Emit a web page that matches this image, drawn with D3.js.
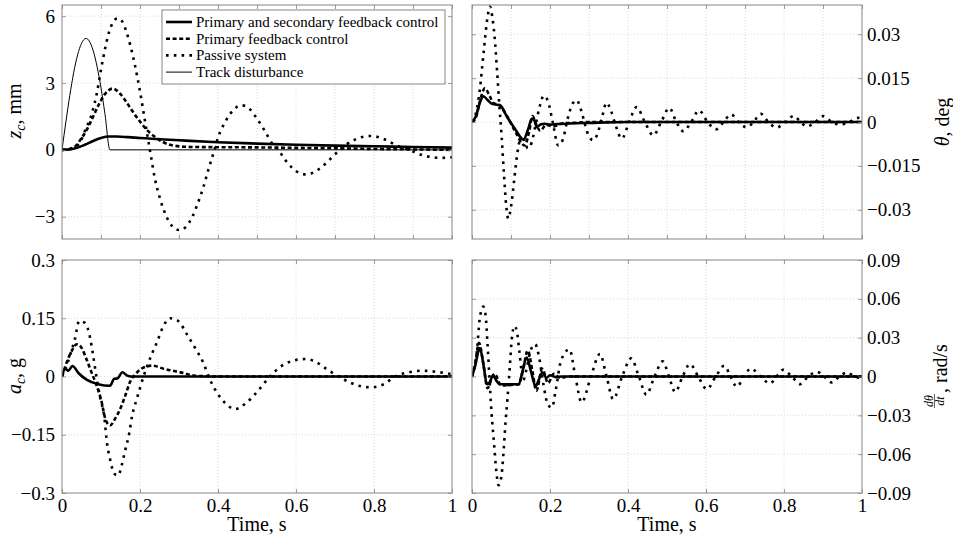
<!DOCTYPE html>
<html>
<head>
<meta charset="utf-8">
<script src="https://cdn.jsdelivr.net/npm/d3@7"></script>
<style>
  body { margin: 0; background: #fff; }
  svg text { font-family: "Liberation Serif", "DejaVu Serif", serif; fill: #000; }
</style>
</head>
<body>
<svg id="chart" width="953" height="538"></svg>
<script>
// axis ticks
const timeTicks = [0, 0.2, 0.4, 0.6, 0.8, 1];
const timeTickLabels = ["0", "0.2", "0.4", "0.6", "0.8", "1"];
const timeTicksFine = [0, 0.1, 0.2, 0.3, 0.4, 0.5, 0.6, 0.7, 0.8, 0.9, 1];
const zTicks = [6, 3, 0, -3];
const zTickLabels = ["6", "3", "0", "\u22123"];
const thTicks = [0.03, 0.015, 0, -0.015, -0.03];
const thTickLabels = ["0.03", "0.015", "0", "\u22120.015", "\u22120.03"];
const acTicks = [0.3, 0.15, 0, -0.15, -0.3];
const acTickLabels = ["0.3", "0.15", "0", "\u22120.15", "\u22120.3"];
const dtTicks = [0.09, 0.06, 0.03, 0, -0.03, -0.06, -0.09];
const dtTickLabels = ["0.09", "0.06", "0.03", "0", "\u22120.03", "\u22120.06", "\u22120.09"];

const legendNames = ["Primary and secondary feedback control", "Primary feedback control", "Passive system", "Track disturbance"];

// z_c, mm
const trackTime = [0, 0.01, 0.02, 0.03, 0.04, 0.05, 0.0615, 0.07, 0.08, 0.09, 0.10, 0.11, 0.123, 1.0];
const trackVal = [0, 1.26, 2.44, 3.47, 4.26, 4.78, 5.0, 4.88, 4.45, 3.73, 2.78, 1.63, 0, 0];
const zBothTime = [0, 0.02, 0.04, 0.06, 0.08, 0.1, 0.12, 0.14, 0.17, 0.2, 0.3, 0.4, 0.5, 0.6, 0.7, 0.8, 0.9, 1.0];
const zBothVal = [0, 0.02, 0.1, 0.24, 0.4, 0.53, 0.6, 0.6, 0.57, 0.53, 0.43, 0.34, 0.28, 0.23, 0.19, 0.16, 0.13, 0.1];
const zPrimTime = [0, 0.02, 0.035, 0.05, 0.065, 0.08, 0.095, 0.11, 0.13, 0.15, 0.165, 0.18, 0.2, 0.22, 0.24, 0.26, 0.29, 0.33, 0.4, 0.5, 0.6, 0.7, 0.8, 0.9, 1.0];
const zPrimVal = [0, 0.04, 0.18, 0.52, 0.95, 1.5, 2.05, 2.5, 2.75, 2.5, 2.15, 1.75, 1.27, 0.85, 0.56, 0.34, 0.18, 0.13, 0.12, 0.11, 0.09, 0.07, 0.04, 0.02, 0.0];
const zPassTime = [0, 0.02, 0.035, 0.045, 0.058, 0.077, 0.09, 0.1, 0.11, 0.12, 0.13, 0.142, 0.155, 0.165, 0.175, 0.187, 0.2, 0.213, 0.226, 0.238, 0.251, 0.268, 0.284, 0.302, 0.318, 0.333, 0.347, 0.362, 0.376, 0.39, 0.40, 0.42, 0.44, 0.46, 0.48, 0.50, 0.52, 0.54, 0.555, 0.57, 0.59, 0.61, 0.625, 0.64, 0.66, 0.68, 0.70, 0.713, 0.73, 0.75, 0.77, 0.79, 0.81, 0.83, 0.85, 0.87, 0.89, 0.91, 0.93, 0.95, 0.97, 1.0];
const zPassVal = [0, 0.05, 0.15, 0.3, 0.82, 1.65, 2.6, 3.6, 4.5, 5.25, 5.7, 5.9, 5.75, 5.3, 4.7, 3.8, 2.62, 1.27, -0.07, -1.27, -2.17, -3.0, -3.45, -3.6, -3.45, -3.05, -2.45, -1.7, -0.85, -0.05, 0.55, 1.3, 1.8, 2.0, 1.85, 1.4, 0.85, 0.25, 0, -0.4, -0.8, -1.05, -1.1, -1.05, -0.85, -0.55, -0.2, 0, 0.25, 0.45, 0.58, 0.62, 0.58, 0.45, 0.27, 0.1, 0, -0.15, -0.27, -0.33, -0.36, -0.33];

// theta, deg
const thBothTime = [0, 0.01, 0.02, 0.029, 0.04, 0.05, 0.06, 0.072, 0.09, 0.11, 0.132, 0.145, 0.153, 0.16, 0.166, 0.177, 0.187, 0.2, 0.22, 0.25, 0.3, 0.4, 1.0];
const thBothVal = [0, 0.002, 0.0065, 0.0088, 0.0075, 0.0063, 0.006, 0.0057, 0.0017, -0.0023, -0.006, -0.002, 0.0011, 0.0005, -0.0017, -0.0008, -0.0006, -0.0009, -0.0007, -0.0005, -0.0003, 0, 0];
const thPrimTime = [0, 0.01, 0.02, 0.033, 0.045, 0.055, 0.07, 0.09, 0.11, 0.135, 0.147, 0.155, 0.165, 0.175, 0.19, 0.21, 0.23, 0.26, 0.3, 1.0];
const thPrimVal = [0, 0.0015, 0.007, 0.0115, 0.009, 0.0065, 0.0058, 0.002, -0.003, -0.008, -0.003, 0.002, -0.001, -0.003, -0.001, -0.0015, -0.0005, -0.0003, 0, 0];
const thPassTime = [0, 0.01, 0.02, 0.03, 0.04, 0.046, 0.052, 0.058, 0.064, 0.07, 0.076, 0.082, 0.088, 0.093, 0.1, 0.108, 0.116, 0.124, 0.133, 0.143, 0.153, 0.163, 0.173, 0.184, 0.195, 0.207, 0.221, 0.233, 0.245, 0.257, 0.268, 0.28, 0.29, 0.3, 0.311, 0.322, 0.334, 0.345, 0.356, 0.368, 0.384, 0.403, 0.422, 0.443, 0.465, 0.485, 0.506, 0.524, 0.542, 0.562, 0.582, 0.604, 0.626, 0.645, 0.664, 0.684, 0.704, 0.722, 0.74, 0.76, 0.781, 0.803, 0.826, 0.842, 0.859, 0.88, 0.901, 0.922, 0.944, 0.967, 0.99, 1.0];
const thPassVal = [0, 0.003, 0.011, 0.024, 0.036, 0.0395, 0.036, 0.029, 0.018, 0.006, -0.005, -0.018, -0.029, -0.033, -0.029, -0.02, -0.011, -0.006, -0.006, -0.009, -0.007, -0.001, 0.005, 0.009, 0.007, 0, -0.008, -0.006, 0.001, 0.006, 0.0075, 0.004, -0.001, -0.005, -0.0062, -0.004, 0.002, 0.0066, 0.004, -0.001, -0.0057, 0, 0.0051, 0, -0.0046, 0, 0.0048, 0, -0.0032, 0, 0.004, 0, -0.0025, 0, 0.0026, 0, -0.0018, 0, 0.0028, 0, -0.0019, 0, 0.0021, 0, -0.0015, 0, 0.002, 0, -0.0009, 0, 0.0014, 0.001];

// a_c, g
const acBothTime = [0, 0.008, 0.016, 0.027, 0.042, 0.063, 0.093, 0.123, 0.134, 0.142, 0.155, 0.166, 0.178, 0.2, 1.0];
const acBothVal = [0, 0.02, 0.015, 0.027, 0.009, -0.008, -0.02, -0.024, -0.006, -0.005, 0.011, 0.003, 0, 0, 0];
const acPrimTime = [0, 0.012, 0.025, 0.038, 0.05, 0.063, 0.076, 0.089, 0.102, 0.11, 0.123, 0.136, 0.149, 0.162, 0.174, 0.191, 0.209, 0.23, 0.264, 0.307, 0.341, 0.4, 1.0];
const acPrimVal = [0, 0.036, 0.066, 0.083, 0.074, 0.044, 0.01, -0.024, -0.067, -0.105, -0.126, -0.109, -0.084, -0.05, -0.015, 0.009, 0.023, 0.028, 0.019, 0.01, 0.002, 0, 0];
const acPassTime = [0, 0.01, 0.02, 0.033, 0.044, 0.059, 0.072, 0.08, 0.089, 0.097, 0.109, 0.115, 0.123, 0.134, 0.144, 0.153, 0.162, 0.172, 0.18, 0.191, 0.2, 0.209, 0.217, 0.23, 0.243, 0.26, 0.277, 0.298, 0.32, 0.341, 0.362, 0.379, 0.397, 0.42, 0.444, 0.47, 0.5, 0.533, 0.56, 0.59, 0.623, 0.65, 0.68, 0.709, 0.74, 0.77, 0.794, 0.825, 0.854, 0.89, 0.927, 0.96, 1.0];
const acPassVal = [0, 0.022, 0.053, 0.096, 0.143, 0.138, 0.1, 0.053, -0.005, -0.05, -0.109, -0.169, -0.212, -0.25, -0.255, -0.229, -0.19, -0.148, -0.1, -0.06, -0.03, 0, 0.023, 0.057, 0.087, 0.13, 0.15, 0.143, 0.109, 0.074, 0.036, -0.007, -0.041, -0.07, -0.084, -0.07, -0.04, 0, 0.025, 0.04, 0.045, 0.038, 0.018, 0, -0.016, -0.026, -0.028, -0.02, 0, 0.011, 0.015, 0.012, 0.006];

// dtheta/dt, rad/s
const dtBothTime = [0, 0.008, 0.02, 0.03, 0.038, 0.046, 0.054, 0.062, 0.072, 0.09, 0.12, 0.128, 0.14, 0.152, 0.163, 0.172, 0.18, 0.191, 0.2, 0.215, 0.23, 1.0];
const dtBothVal = [0, 0.008, 0.022, 0.008, -0.006, -0.004, 0.001, -0.003, -0.006, -0.006, -0.006, 0.002, 0.0146, 0.003, -0.0075, -0.002, 0.003, -0.001, 0.001, -0.0005, 0, 0];
const dtPrimTime = [0, 0.008, 0.018, 0.028, 0.04, 0.05, 0.058, 0.075, 0.1, 0.12, 0.13, 0.143, 0.155, 0.165, 0.18, 0.195, 0.21, 0.225, 0.25, 1.0];
const dtPrimVal = [0, 0.01, 0.026, 0.012, -0.009, -0.002, 0.002, -0.007, -0.0065, -0.006, 0.004, 0.02, 0.004, -0.011, 0.006, -0.005, 0.002, -0.001, 0, 0];
const dtPassTime = [0, 0.012, 0.02, 0.029, 0.035, 0.04, 0.044, 0.05, 0.056, 0.062, 0.068, 0.075, 0.08, 0.086, 0.091, 0.097, 0.102, 0.109, 0.115, 0.122, 0.131, 0.14, 0.15, 0.162, 0.172, 0.183, 0.195, 0.205, 0.215, 0.228, 0.25, 0.265, 0.281, 0.305, 0.328, 0.345, 0.362, 0.385, 0.408, 0.428, 0.447, 0.468, 0.489, 0.505, 0.521, 0.54, 0.559, 0.58, 0.602, 0.625, 0.647, 0.663, 0.679, 0.697, 0.715, 0.74, 0.764, 0.781, 0.798, 0.82, 0.841, 0.862, 0.884, 0.903, 0.922, 0.942, 0.962, 0.98, 1.0];
const dtPassVal = [0, 0.018, 0.045, 0.054, 0.047, 0.024, 0.003, -0.028, -0.05, -0.072, -0.084, -0.078, -0.062, -0.035, -0.017, 0.008, 0.029, 0.039, 0.035, 0.018, -0.003, 0.006, 0.02, 0.025, 0.015, -0.006, -0.022, -0.024, -0.01, 0.012, 0.021, 0, -0.02, 0, 0.0174, 0, -0.0175, 0, 0.014, 0, -0.014, 0, 0.0117, 0, -0.012, 0, 0.0096, 0, -0.0098, 0, 0.0083, 0, -0.008, 0, 0.0062, 0, -0.0054, 0, 0.0052, 0, -0.0059, 0, 0.0036, 0, -0.0046, 0, 0.0031, 0, -0.0015];

const styles = {
  thick: { w: 2.6, dash: null },
  dashed: { w: 2.6, dash: "4,2.6" },
  dotted: { w: 2.6, dash: "2.6,5.2" },
  thin: { w: 1, dash: null }
};

const svg = d3.select("#chart");
const frameColor = "#858585";
const gridColor = "#c8c8c8";

const panels = [
  { id: "tl", box: [62, 452, 5, 239], domain: [-4, 6.5], ticks: zTicks, labels: zTickLabels, side: "left", xTicks: timeTicksFine, showX: false,
    series: [[zPassTime, zPassVal, "dotted"], [zPrimTime, zPrimVal, "dashed"], [zBothTime, zBothVal, "thick"], [trackTime, trackVal, "thin"]] },
  { id: "tr", box: [472, 862, 5, 239], domain: [-0.04, 0.04], ticks: thTicks, labels: thTickLabels, side: "right", xTicks: timeTicksFine, showX: false,
    series: [[thPassTime, thPassVal, "dotted"], [thPrimTime, thPrimVal, "dashed"], [thBothTime, thBothVal, "thick"]] },
  { id: "bl", box: [62, 452, 260, 493], domain: [-0.3, 0.3], ticks: acTicks, labels: acTickLabels, side: "left", xTicks: timeTicks, showX: true,
    series: [[acPassTime, acPassVal, "dotted"], [acPrimTime, acPrimVal, "dashed"], [acBothTime, acBothVal, "thick"]] },
  { id: "br", box: [472, 862, 260, 493], domain: [-0.09, 0.09], ticks: dtTicks, labels: dtTickLabels, side: "right", xTicks: timeTicks, showX: true,
    series: [[dtPassTime, dtPassVal, "dotted"], [dtPrimTime, dtPrimVal, "dashed"], [dtBothTime, dtBothVal, "thick"]] }
];

function styleAxis(g) {
  g.select(".domain").remove();
  g.selectAll(".tick line").attr("stroke", frameColor).attr("stroke-width", 0.8);
  g.selectAll(".tick text").attr("font-size", 19).attr("fill", "#000");
  g.attr("font-family", null).attr("font-size", null);
}

function drawPanel(p) {
  const [x0, x1, y0, y1] = p.box;
  const x = d3.scaleLinear().domain([0, 1]).range([x0, x1]);
  const y = d3.scaleLinear().domain(p.domain).range([y1, y0]);
  const g = svg.append("g");

  // grid
  g.selectAll(".vg").data(p.xTicks.filter(d => d > 0 && d < 1)).enter().append("line")
    .attr("x1", d => x(d)).attr("x2", d => x(d)).attr("y1", y0).attr("y2", y1)
    .attr("stroke", gridColor).attr("stroke-width", 0.7).attr("stroke-dasharray", "1,2");
  g.selectAll(".hg").data(p.ticks.filter(d => y(d) > y0 + 1 && y(d) < y1 - 1)).enter().append("line")
    .attr("x1", x0).attr("x2", x1).attr("y1", d => y(d)).attr("y2", d => y(d))
    .attr("stroke", gridColor).attr("stroke-width", 0.7).attr("stroke-dasharray", "1,2");

  // series
  g.append("clipPath").attr("id", "clip-" + p.id).append("rect")
    .attr("x", x0).attr("y", y0).attr("width", x1 - x0).attr("height", y1 - y0);
  const line = d3.line().x(d => x(d[0])).y(d => y(d[1])).curve(d3.curveMonotoneX);
  p.series.forEach(s => {
    const pts = s[0].map((t, i) => [t, s[1][i]]);
    const st = styles[s[2]];
    g.append("path").datum(pts)
      .attr("clip-path", "url(#clip-" + p.id + ")")
      .attr("d", line).attr("fill", "none").attr("stroke", "#000")
      .attr("stroke-width", st.w).attr("stroke-dasharray", st.dash)
      .attr("stroke-linejoin", "round");
  });

  // frame
  g.append("rect").attr("x", x0).attr("y", y0).attr("width", x1 - x0).attr("height", y1 - y0)
    .attr("fill", "none").attr("stroke", frameColor).attr("stroke-width", 1);

  // ticks inside, labels outside
  const yMain = (p.side === "left" ? d3.axisLeft(y) : d3.axisRight(y))
    .tickValues(p.ticks).tickFormat((d, i) => p.labels[i]).tickSizeInner(-4).tickSizeOuter(0)
    .tickPadding(p.side === "left" ? 7 : 5);
  g.append("g").attr("transform", `translate(${p.side === "left" ? x0 : x1},0)`).call(yMain).call(styleAxis);
  const yOther = (p.side === "left" ? d3.axisRight(y) : d3.axisLeft(y))
    .tickValues(p.ticks).tickFormat("").tickSizeInner(-4).tickSizeOuter(0);
  g.append("g").attr("transform", `translate(${p.side === "left" ? x1 : x0},0)`).call(yOther).call(styleAxis);

  const xBottom = d3.axisBottom(x).tickValues(p.xTicks).tickSizeInner(-4).tickSizeOuter(0).tickPadding(6)
    .tickFormat((d, i) => p.showX ? timeTickLabels[i] : "");
  g.append("g").attr("transform", `translate(0,${y1})`).call(xBottom).call(styleAxis);
  const xTop = d3.axisTop(x).tickValues(p.xTicks).tickFormat("").tickSizeInner(-4).tickSizeOuter(0);
  g.append("g").attr("transform", `translate(0,${y0})`).call(xTop).call(styleAxis);

  if (p.showX) {
    g.append("text").attr("x", (x0 + x1) / 2).attr("y", 531).attr("text-anchor", "middle")
      .attr("font-size", 20).text("Time, s");
  }
}

panels.forEach(drawPanel);

// y labels
function mathLabel(cx, cy, sym, sub, rest) {
  const t = svg.append("text").attr("transform", `translate(${cx},${cy}) rotate(-90)`)
    .attr("text-anchor", "middle").attr("font-size", 20);
  t.append("tspan").attr("font-style", "italic").text(sym);
  if (sub) {
    t.append("tspan").attr("font-style", "italic").attr("font-size", 14).attr("dy", 4).text(sub);
    t.append("tspan").attr("dy", -4).text(rest);
  } else {
    t.append("tspan").text(rest);
  }
}
mathLabel(21, 111, "z", "c", ", mm");
mathLabel(949, 122, "\u03b8", null, ", deg");
mathLabel(21, 376, "a", "c", ", g");

const fr = svg.append("g").attr("transform", "translate(947,367) rotate(-90)");
fr.append("text").attr("x", -34).attr("y", -14.5).attr("text-anchor", "middle")
  .attr("font-size", 12).attr("font-style", "italic").text("d\u03b8");
fr.append("line").attr("x1", -41).attr("x2", -27).attr("y1", -12.5).attr("y2", -12.5)
  .attr("stroke", "#000").attr("stroke-width", 0.6);
fr.append("text").attr("x", -34).attr("y", -3.5).attr("text-anchor", "middle")
  .attr("font-size", 12).attr("font-style", "italic").text("dt");
fr.append("text").attr("x", -26).attr("y", 0).attr("text-anchor", "start")
  .attr("font-size", 20).text(", rad/s");

// legend
const legendStyles = ["thick", "dashed", "dotted", "thin"];
const lg = svg.append("g");
lg.append("rect").attr("x", 162).attr("y", 10).attr("width", 283).attr("height", 74)
  .attr("fill", "#fff").attr("stroke", frameColor).attr("stroke-width", 1);
const entries = lg.selectAll(".entry").data(legendNames).enter().append("g")
  .attr("transform", (d, i) => `translate(0,${22 + i * 16.7})`);
entries.append("line").attr("x1", 166).attr("x2", 192).attr("y1", 0).attr("y2", 0)
  .attr("stroke", "#000")
  .attr("stroke-width", (d, i) => styles[legendStyles[i]].w)
  .attr("stroke-dasharray", (d, i) => styles[legendStyles[i]].dash);
entries.append("text").attr("x", 196).attr("y", 5).attr("font-size", 15).text(d => d);
</script>
</body>
</html>
